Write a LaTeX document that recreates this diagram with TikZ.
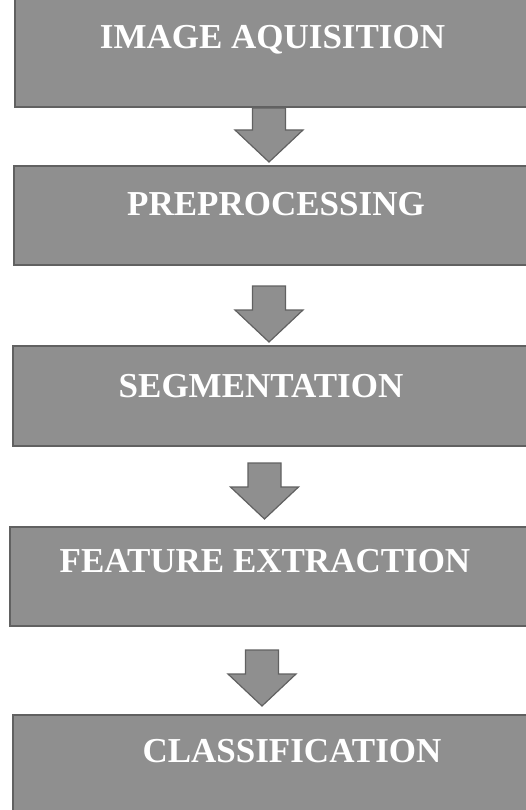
\documentclass[tikz,border=0pt]{standalone}
\usepackage{fontspec}
\setmainfont{Liberation Serif}
\usetikzlibrary{calc}
\begin{document}
\begin{tikzpicture}[x=1pt,y=1pt,
 stage/.style={rectangle,fill=black!44,draw=black!62,line width=2pt,inner sep=0pt},
 caption/.style={text=white,font=\bfseries\fontsize{35}{40}\selectfont,text height=24pt,text depth=0pt,inner sep=0pt},
 blockarrow/.style={fill=black!44,draw=black!62,line width=1.2pt,line join=miter,
  to path={($(\tikztostart)+(-16.5,0)$) -- ($(\tikztotarget)+(-16.5,32)$) -- ($(\tikztotarget)+(-34,32)$) -- (\tikztotarget) -- ($(\tikztotarget)+(34,32)$) -- ($(\tikztotarget)+(16.5,32)$) -- ($(\tikztostart)+(16.5,0)$) -- cycle}}]
 \useasboundingbox (0,0) rectangle (526,-810);
 % the five stages
 \node[stage,minimum width=515,minimum height=109,label={[caption,yshift=16]center:IMAGE AQUISITION}] (acq) at (272.5,-52.5) {};
 \node[stage,minimum width=516,minimum height=99,label={[caption,xshift=4,yshift=12]center:PREPROCESSING}] (pre) at (272,-215.5) {};
 \node[stage,minimum width=517,minimum height=100,label={[caption,xshift=-10.5,yshift=11]center:SEGMENTATION}] (seg) at (271.5,-396) {};
 \node[stage,minimum width=520,minimum height=99,label={[caption,xshift=-5,yshift=16.5]center:FEATURE EXTRACTION}] (feat) at (270,-576.5) {};
 \node[stage,minimum width=517,minimum height=97,label={[caption,xshift=20.5,yshift=13]center:CLASSIFICATION}] (cls) at (271.5,-763.5) {};
 % block arrows between them
 \draw[blockarrow] ([xshift=-3.5]acq.south) to ([xshift=-3,yshift=3]pre.north);
 \draw[blockarrow] ([xshift=-3,yshift=-20]pre.south) to ([xshift=-2.5,yshift=3]seg.north);
 \draw[blockarrow] ([xshift=-7,yshift=-16]seg.south) to ([xshift=-5.5,yshift=7]feat.north);
 \draw[blockarrow] ([xshift=-8,yshift=-23]feat.south) to ([xshift=-9.5,yshift=8]cls.north);
\end{tikzpicture}
\end{document}
